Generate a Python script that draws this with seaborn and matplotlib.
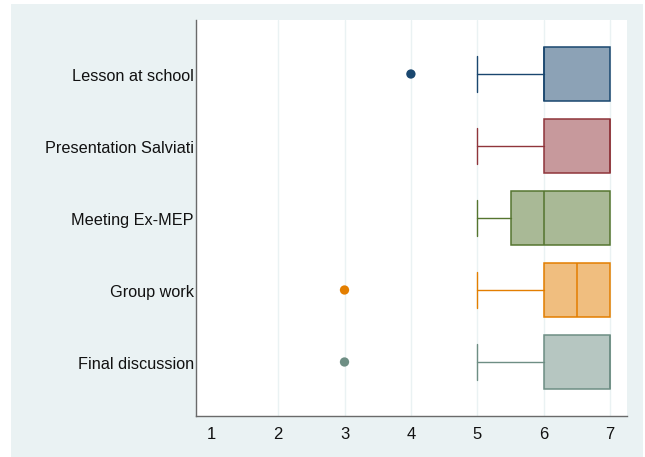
import matplotlib
matplotlib.use("Agg")
import matplotlib.pyplot as plt
from matplotlib.patches import Rectangle
import seaborn as sns
import pandas as pd

# Rating summaries per activity (scale 1-7)
activities = ["Lesson at school", "Presentation Salviati", "Meeting Ex-MEP",
              "Group work", "Final discussion"]
whisker_low = [5, 5, 5, 5, 5]
q1 = [6, 6, 5.5, 6, 6]
median = [6, 7, 6, 6.5, 7]
q3 = [7, 7, 7, 7, 7]
whisker_high = [7, 7, 7, 7, 7]
outliers = [[4], [], [], [3], [3]]
colors = ["#1a476f", "#90353b", "#55752f", "#e37e00", "#6e8e84"]
x_ticks = [1, 2, 3, 4, 5, 6, 7]

sns.set_theme(style="white")
plt.rcParams["font.family"] = ["Liberation Sans", "DejaVu Sans"]

bg = "#eaf2f3"
fig = plt.figure(figsize=(6.45, 4.57), dpi=100, facecolor="white")
fig.patches.append(Rectangle((11 / 645, 0), (643 - 11) / 645, 1 - 4 / 457,
                             transform=fig.transFigure, facecolor=bg,
                             edgecolor="none", zorder=-10))
ax = fig.add_axes([195.7 / 645, 1 - 415.7 / 457,
                   (626.7 - 195.7) / 645, (415.7 - 20) / 457])
ax.set_facecolor("white")

positions = list(range(len(activities)))
for x in x_ticks[1:]:
    ax.axvline(x, color=bg, lw=1.0, zorder=0)

stats = []
for i, name in enumerate(activities):
    stats.append(dict(label=name, whislo=whisker_low[i], q1=q1[i], med=median[i],
                      q3=q3[i], whishi=whisker_high[i], fliers=[]))

art = ax.bxp(stats, positions=positions, widths=0.75, orientation="horizontal",
             patch_artist=True, showfliers=False, capwidths=0.49,
             manage_ticks=False)
for i, c in enumerate(colors):
    box = art["boxes"][i]
    box.set_facecolor(matplotlib.colors.to_rgba(c, 0.5))
    box.set_edgecolor(c)
    box.set_linewidth(1.1)
    art["medians"][i].set_color(c)
    art["medians"][i].set_linewidth(1.1)
    for w in art["whiskers"][2 * i:2 * i + 2]:
        w.set_color(c)
        w.set_linewidth(1.0)
    lo_cap, hi_cap = art["caps"][2 * i:2 * i + 2]
    for cap in (lo_cap, hi_cap):
        cap.set_color(c)
        cap.set_linewidth(1.0)
    # a zero-length whisker gets no end line
    if whisker_high[i] == q3[i]:
        hi_cap.set_visible(False)
    if whisker_low[i] == q1[i]:
        lo_cap.set_visible(False)

# Outside values
out_df = pd.DataFrame(
    [(activities[i], positions[i], v) for i in positions for v in outliers[i]],
    columns=["activity", "pos", "rating"])
sns.scatterplot(data=out_df, x="rating", y="pos", hue="activity",
                palette=dict(zip(activities, colors)), s=45, linewidth=0,
                legend=False, ax=ax, zorder=3)

ax.set_xlim(0.759, 7.25)
ax.set_ylim(4.746, -0.75)
ax.set_xticks(x_ticks)
ax.set_xticklabels([str(t) for t in x_ticks], fontsize=12)
ax.set_yticks(positions)
ax.set_yticklabels([])
# category names beside each box
for pos, name in zip(positions, activities):
    ax.annotate(name, xy=(0, pos), xycoords=("axes fraction", "data"),
                xytext=(-2, -3), textcoords="offset pixels",
                ha="right", va="center", fontsize=11.7, color="#111111")
ax.set_xlabel("")
ax.set_ylabel("")
ax.tick_params(axis="x", length=4.5, width=1, color="#6a6a6a", pad=3.5, labelcolor="#111111")
ax.tick_params(axis="y", length=0)
for side in ["top", "right"]:
    ax.spines[side].set_visible(False)
for side in ["left", "bottom"]:
    ax.spines[side].set_color("#6a6a6a")
    ax.spines[side].set_linewidth(1.0)

fig.savefig("out.png", dpi=100, facecolor="white")
